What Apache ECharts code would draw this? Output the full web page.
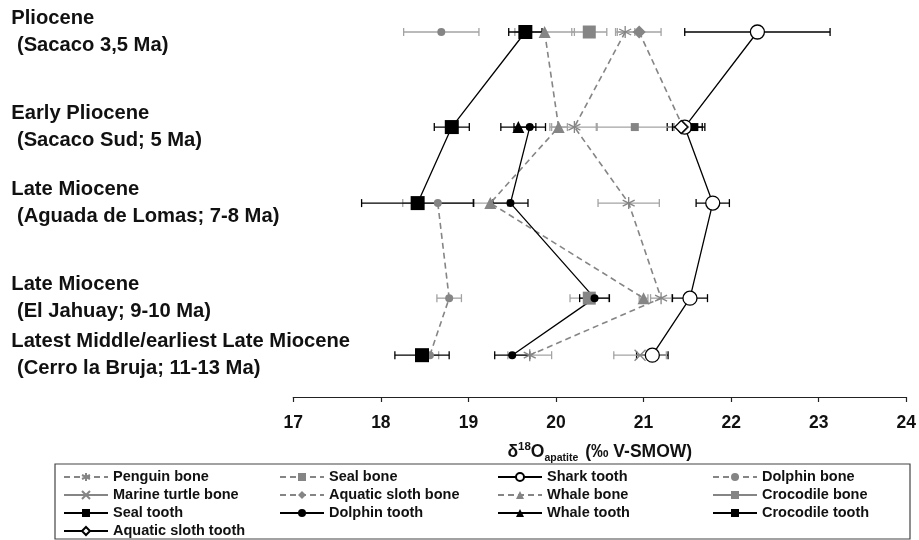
<!DOCTYPE html>
<html><head><meta charset="utf-8">
<script src="https://cdn.jsdelivr.net/npm/echarts@6/dist/echarts.min.js"></script>
<style>html,body{margin:0;padding:0;background:#fff}#c{width:919px;height:540px}</style>
</head><body><div id="c"></div>
<script>
// ---- data ----
const rowPos = [0, 5, 9, 14, 17];
const rowLabels = [
  'Pliocene\n (Sacaco 3,5 Ma)',
  'Early Pliocene\n (Sacaco Sud; 5 Ma)',
  'Late Miocene\n (Aguada de Lomas; 7-8 Ma)',
  'Late Miocene\n (El Jahuay; 9-10 Ma)',
  'Latest Middle/earliest Late Miocene\n (Cerro la Bruja; 11-13 Ma)'
];
const xTicks = [17, 18, 19, 20, 21, 22, 23, 24];

const penguinBone = [20.79, 20.21, 20.83, 21.2, 19.7];
const penguinBoneErr = [0.11, 0.26, 0.35, 0.12, 0.25];
const sealBone = [20.38, null, null, 20.38, null];
const sealBoneErr = [0.2, null, null, 0.22, null];
const sharkTooth = [22.3, 21.47, 21.79, 21.53, 21.1];
const sharkToothErr = [0.83, 0.2, 0.19, 0.2, 0.18];
const dolphinBone = [18.69, null, 18.65, 18.78, 18.56];
const dolphinBoneErr = [0.43, null, 0.4, 0.14, 0.1];
const marineTurtleBone = [null, null, null, null, 20.96];
const marineTurtleBoneErr = [null, null, null, null, 0.3];
const aquaticSlothBone = [20.95, 21.45, null, null, null];
const aquaticSlothBoneErr = [0.25, 0.1, null, null, null];
const whaleBone = [19.87, 20.03, 19.25, 21.0, null];
const whaleBoneErr = [0.34, 0.1, 0.2, 0.05, null];
const crocodileBone = [null, 20.9, null, null, null];
const crocodileBoneErr = [null, 0.44, null, null, null];
const sealTooth = [19.65, 18.81, 18.42, null, 18.47];
const sealToothErr = [0.19, 0.2, 0.64, null, 0.31];
const dolphinTooth = [null, 19.7, 19.48, 20.44, 19.5];
const dolphinToothErr = [null, 0.18, 0.2, 0.17, 0.2];
const whaleTooth = [null, 19.57, null, null, null];
const whaleToothErr = [null, 0.2, null, null, null];
const crocodileTooth = [null, 21.58, null, null, null];
const crocodileToothErr = [null, 0.12, null, null, null];
const aquaticSlothTooth = [null, 21.43, null, null, null];
const aquaticSlothToothErr = [null, 0.1, null, null, null];

// ---- styles ----
const GRAY = '#858585', GRAYERR = '#a3a3a3', BLACK = '#000';
const STAR = 'path://M5,0L5,10M0.7,2.5L9.3,7.5M9.3,2.5L0.7,7.5';
const XMARK = 'path://M0,0L10,10M10,0L0,10';
const specs = [
  {name:'Penguin bone', v:penguinBone, e:penguinBoneErr, c:GRAY, dash:true, sym:STAR, size:12, fill:'none', stroke:GRAY},
  {name:'Seal bone', v:sealBone, e:sealBoneErr, c:GRAY, dash:true, sym:'rect', size:13, fill:GRAY},
  {name:'Shark tooth', v:sharkTooth, e:sharkToothErr, c:BLACK, dash:false, sym:'circle', size:14, fill:'#fff', stroke:BLACK},
  {name:'Dolphin bone', v:dolphinBone, e:dolphinBoneErr, c:GRAY, dash:true, sym:'circle', size:8, fill:GRAY},
  {name:'Marine turtle bone', v:marineTurtleBone, e:marineTurtleBoneErr, c:GRAY, dash:false, sym:XMARK, size:11, fill:'none', stroke:GRAY},
  {name:'Aquatic sloth bone', v:aquaticSlothBone, e:aquaticSlothBoneErr, c:GRAY, dash:true, sym:'diamond', size:13, fill:GRAY},
  {name:'Whale bone', v:whaleBone, e:whaleBoneErr, c:GRAY, dash:true, sym:'triangle', size:12, fill:GRAY},
  {name:'Crocodile bone', v:crocodileBone, e:crocodileBoneErr, c:GRAY, dash:false, sym:'rect', size:8, fill:GRAY},
  {name:'Seal tooth', v:sealTooth, e:sealToothErr, c:BLACK, dash:false, sym:'rect', size:14, fill:BLACK},
  {name:'Dolphin tooth', v:dolphinTooth, e:dolphinToothErr, c:BLACK, dash:false, sym:'circle', size:8, fill:BLACK},
  {name:'Whale tooth', v:whaleTooth, e:whaleToothErr, c:BLACK, dash:false, sym:'triangle', size:12, fill:BLACK},
  {name:'Crocodile tooth', v:crocodileTooth, e:crocodileToothErr, c:BLACK, dash:false, sym:'rect', size:8, fill:BLACK},
  {name:'Aquatic sloth tooth', v:aquaticSlothTooth, e:aquaticSlothToothErr, c:BLACK, dash:false, sym:'diamond', size:13, fill:'#fff', stroke:BLACK}
];

function errRender(color) {
  return function (params, api) {
    const x = api.value(0), y = api.value(1), e = api.value(2);
    const p1 = api.coord([x - e, y]), p2 = api.coord([x + e, y]);
    const h = 4, st = {stroke: color, lineWidth: 1.3};
    return {type: 'group', children: [
      {type: 'line', shape: {x1: p1[0], y1: p1[1], x2: p2[0], y2: p2[1]}, style: st},
      {type: 'line', shape: {x1: p1[0], y1: p1[1] - h, x2: p1[0], y2: p1[1] + h}, style: st},
      {type: 'line', shape: {x1: p2[0], y1: p2[1] - h, x2: p2[0], y2: p2[1] + h}, style: st}
    ]};
  };
}

const series = [];
specs.forEach(function (s) {
  const errData = [];
  s.v.forEach(function (val, i) { if (val != null && s.e[i] != null) errData.push([val, rowPos[i], s.e[i]]); });
  series.push({
    name: s.name + ' err', type: 'custom', z: 1, silent: true,
    renderItem: errRender(s.c === GRAY ? GRAYERR : BLACK),
    data: errData, clip: false
  });
});
specs.forEach(function (s) {
  series.push({
    name: s.name, type: 'line', z: 3,
    data: s.v.map(function (val, i) { return [val == null ? '-' : val, rowPos[i]]; }),
    symbol: s.sym, symbolSize: s.size, showSymbol: true, connectNulls: false,
    lineStyle: {color: s.c === GRAY ? GRAY : BLACK, width: s.dash ? 1.6 : 1.3, type: s.dash ? [6, 4] : 'solid'},
    itemStyle: {color: s.fill, borderColor: s.stroke || s.fill, borderWidth: s.stroke ? 1.3 : 0},
    clip: false
  });
});

const legendCols = [
  ['Penguin bone', 'Marine turtle bone', 'Seal tooth', 'Aquatic sloth tooth'],
  ['Seal bone', 'Aquatic sloth bone', 'Dolphin tooth'],
  ['Shark tooth', 'Whale bone', 'Whale tooth'],
  ['Dolphin bone', 'Crocodile bone', 'Crocodile tooth']
];
const legendLeft = [63, 279, 497, 712];
const FONT = '"Liberation Sans", Arial, Helvetica, sans-serif';

const chart = echarts.init(document.getElementById('c'), null, {renderer: 'canvas'});
chart.setOption({
  animation: false,
  backgroundColor: '#fff',
  grid: {left: 293.3, right: 9.7, top: 13, bottom: 143, containLabel: false},
  xAxis: {
    type: 'value', min: 17, max: 24, interval: 1, position: 'bottom',
    axisLine: {show: true, onZero: false, lineStyle: {color: '#222', width: 1.2}},
    axisTick: {show: true, length: 5, lineStyle: {color: '#222', width: 1.2}},
    splitLine: {show: false},
    axisLabel: {margin: 17, fontSize: 17.5, fontWeight: 'bold', color: '#111', fontFamily: FONT},
    name: '{a|δ}{sup|18}{a|O}{sub|apatite}{a| (‰ V-SMOW)}',
    nameLocation: 'middle', nameGap: 44,
    nameTextStyle: {
      fontFamily: FONT, color: '#111',
      rich: {
        a: {fontSize: 17.5, fontWeight: 'bold', fontFamily: FONT, color: '#111', verticalAlign: 'bottom', lineHeight: 20},
        sup: {fontSize: 11.5, fontWeight: 'bold', fontFamily: FONT, color: '#111', verticalAlign: 'top', lineHeight: 20},
        sub: {fontSize: 10.5, fontWeight: 'bold', fontFamily: FONT, color: '#111', verticalAlign: 'bottom', lineHeight: 20, padding: [0, 2, -3, 0]}
      }
    }
  },
  yAxis: {
    type: 'value', inverse: true, min: -1, max: 19.2,
    axisLine: {show: false}, axisTick: {show: false}, splitLine: {show: false},
    axisLabel: {
      show: true, customValues: rowPos, align: 'left', margin: 282,
      fontSize: 20.2, fontWeight: 'bold', lineHeight: 26.5, color: '#111', fontFamily: FONT,
      formatter: function (val) { const i = rowPos.indexOf(val); return i >= 0 ? rowLabels[i] : ''; }
    }
  },
  legend: legendCols.map(function (col, k) {
    return {
      data: col, orient: 'vertical', left: legendLeft[k], top: 469, padding: 0,
      itemWidth: 44, itemHeight: 10, itemGap: 2, selectedMode: false,
      textStyle: {fontSize: 14.5, fontWeight: 'bold', color: '#111', fontFamily: FONT, lineHeight: 16}
    };
  }),
  graphic: [{
    type: 'rect', shape: {x: 55, y: 464, width: 855, height: 75},
    style: {fill: 'none', stroke: '#444', lineWidth: 1.2}, z: 0
  }],
  series: series
});
</script></body></html>
